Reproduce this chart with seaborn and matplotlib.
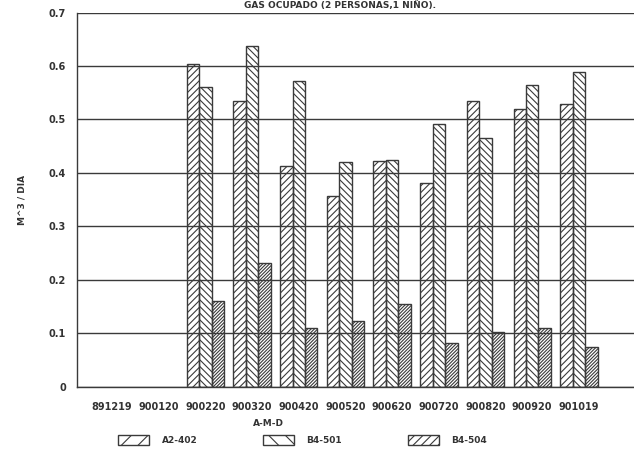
import numpy as np
import pandas as pd
import matplotlib
matplotlib.use("Agg")
import matplotlib.pyplot as plt
import seaborn as sns
from matplotlib.patches import Patch

# fechas de lectura (A-M-D); las dos primeras sin datos, la ultima marca vacia
fechas = ["891219", "900120", "900220", "900320", "900420", "900520",
          "900620", "900720", "900820", "900920", "901019", " "]

# consumo en m^3 / dia, solo desde 900220
fechas_datos = ["900220", "900320", "900420", "900520", "900620",
                "900720", "900820", "900920", "901019"]
a2_402 = [0.604, 0.534, 0.413, 0.356, 0.422, 0.381, 0.535, 0.520, 0.529]
b4_501 = [0.560, 0.638, 0.572, 0.421, 0.424, 0.492, 0.466, 0.564, 0.588]
b4_504 = [0.161, 0.231, 0.109, 0.123, 0.155, 0.081, 0.102, 0.109, 0.075]

series = ["A2-402", "B4-501", "B4-504"]
tramas = ["/" * 5, "\\" * 5, "/" * 10]

df = pd.DataFrame({"fecha": fechas_datos, "A2-402": a2_402,
                   "B4-501": b4_501, "B4-504": b4_504})
df = df.melt(id_vars="fecha", var_name="depto", value_name="consumo")

sns.set_style("white")
plt.rcParams["font.family"] = ["DejaVu Sans"]
plt.rcParams["hatch.linewidth"] = 0.8
tinta = "#3a3a3a"
letra = dict(fontsize=6.5, color="#333333", fontweight="bold")

fig = plt.figure(figsize=(6.34, 4.54), dpi=100)
ax = fig.add_axes([77 / 634, 1 - 386.6 / 454, 1 - 77 / 634, (386.6 - 12.6) / 454])

sns.barplot(data=df, x="fecha", y="consumo", hue="depto", order=fechas,
            hue_order=series, width=0.8, legend=False, ax=ax)

for cont, trama in zip(ax.containers, tramas):
    for barra in cont:
        barra.set_facecolor("none")
        barra.set_edgecolor(tinta)
        barra.set_linewidth(1.0)
        barra.set_hatch(trama)

ax.set_ylim(0, 0.7)
ax.set_xlim(-0.75, 11.18)
ax.set_yticks(np.arange(0, 0.71, 0.1))
ax.set_yticklabels(["0", "0.1", "0.2", "0.3", "0.4", "0.5", "0.6", "0.7"])
ax.set_xticks(range(len(fechas)))
ax.set_xticklabels(fechas)
ax.yaxis.grid(True, color=tinta, linewidth=1.0)
ax.set_axisbelow(False)
for lado in ["top", "right"]:
    ax.spines[lado].set_visible(False)
for lado in ["left", "bottom"]:
    ax.spines[lado].set_color(tinta)
    ax.spines[lado].set_linewidth(1.0)
ax.tick_params(axis="both", direction="out", length=5, width=1.0,
               color=tinta, labelsize=7, labelcolor="#333333")
ax.tick_params(axis="y", pad=3)
ax.tick_params(axis="x", pad=6)
for t in ax.get_xticklabels() + ax.get_yticklabels():
    t.set_fontweight("bold")
ax.set_xlabel("")
ax.set_ylabel("")

fig.text(340 / 634, 1.0, "GAS OCUPADO (2 PERSONAS,1 NIÑO).", ha="center",
         va="top", **letra)
fig.text(22 / 634, 1 - 200 / 454, "M^3 / DIA", rotation=90, ha="center",
         va="center", **letra)
fig.text(268 / 634, 1 - 424 / 454, "A-M-D", ha="center", va="center", **letra)

manijas = [Patch(facecolor="none", edgecolor=tinta, hatch=t, label=s)
           for s, t in zip(series, ["//", "\\\\", "////"])]
fig.legend(handles=manijas, loc="center left", ncol=3,
           bbox_to_anchor=(110 / 634, 1 - 440 / 454), frameon=False,
           prop={"size": 6.5, "weight": "bold"}, handlelength=3.4,
           handleheight=1.3, handletextpad=1.4, columnspacing=7.3,
           labelcolor="#333333")

fig.savefig("out.png", dpi=100)
